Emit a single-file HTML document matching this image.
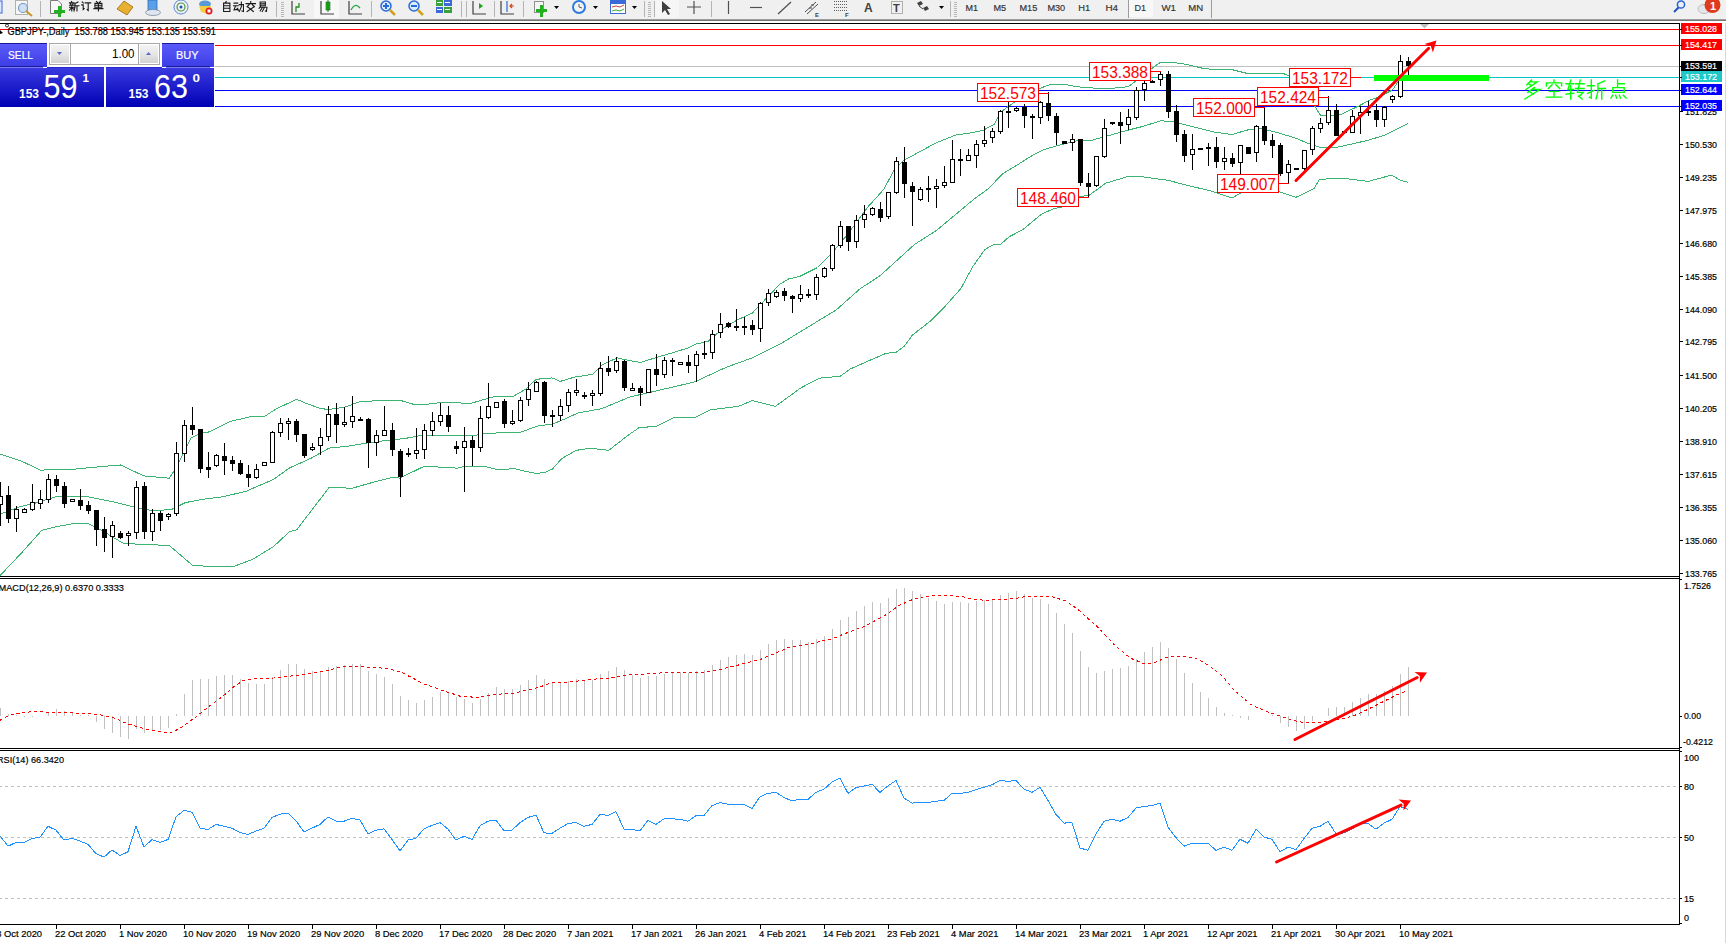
<!DOCTYPE html>
<html><head><meta charset="utf-8"><title>GBPJPY Daily</title>
<style>
html,body{margin:0;padding:0;background:#fff;overflow:hidden;width:1726px;height:943px}
svg{position:absolute;left:0;top:0;display:block}
text{font-family:'Liberation Sans',sans-serif}
</style></head><body>
<svg width="1726" height="943" viewBox="0 0 1726 943">
<rect x="0" y="0" width="1726" height="943" fill="#ffffff"/>

<g shape-rendering="crispEdges">
<rect x="0" y="29" width="1679" height="1" fill="#ff0000"/>
<rect x="0" y="45" width="1679" height="1" fill="#ff0000"/>
<rect x="0" y="66" width="1679" height="1" fill="#c0c0c0"/>
<rect x="0" y="77" width="1679" height="1" fill="#00c8c8"/>
<rect x="0" y="90" width="1679" height="1" fill="#0000ff"/>
<rect x="0" y="106" width="1679" height="1" fill="#0000ff"/>
</g>
<g fill="none" stroke="#3cb371" stroke-width="1" shape-rendering="crispEdges">
<polyline points="0.0,453.9 20.9,460.9 40.6,470.1 76.5,469.0 99.7,466.7 120.5,465.0 143.7,475.9 169.2,478.2 176.1,467.8 190.8,438.2 200.0,433.4 208.4,432.1 230.5,421.4 251.1,416.5 265.0,416.1 276.0,409.0 296.6,399.3 306.3,403.4 320.0,408.3 328.3,409.6 344.9,407.2 358.7,402.0 380.7,400.4 400.4,400.4 412.8,404.1 428.0,404.1 443.1,402.3 470.7,403.4 495.5,396.2 513.4,396.2 525.9,389.0 536.2,379.3 552.0,377.9 560.3,381.4 574.1,377.2 592.4,374.4 602.0,364.8 617.2,357.9 629.6,360.6 640.7,362.4 657.2,357.2 673.7,352.4 687.5,348.2 695.8,344.1 708.2,341.3 723.4,328.2 737.2,320.0 752.3,313.1 764.7,300.0 780.0,284.1 788.5,279.0 799.6,276.5 817.5,267.5 829.9,255.1 840.9,242.7 854.7,224.8 868.5,206.2 876.8,197.2 884.0,188.9 893.6,171.0 903.3,160.6 918.5,152.4 936.4,142.7 955.7,135.1 969.5,133.1 983.3,130.3 994.3,124.1 1001.2,111.7 1016.3,100.7 1038.4,89.0 1049.4,84.8 1063.2,84.1 1076.0,86.7 1105.7,89.0 1128.0,86.7 1138.4,79.3 1150.2,69.6 1160.6,62.2 1171.0,62.2 1187.3,64.5 1205.2,68.9 1231.9,69.6 1248.2,73.7 1270.0,73.9 1284.3,73.9 1288.7,75.6 1300.0,90.0 1315.2,106.9 1320.4,115.2 1333.4,115.2 1341.3,114.3 1359.5,105.6 1370.8,99.5 1376.0,98.2 1390.8,90.9 1393.4,88.7 1397.7,82.2 1408.0,68.0"/>
<polyline points="0.0,514.2 18.5,507.2 37.1,502.6 55.6,496.8 88.1,496.8 111.2,501.4 134.4,507.2 153.0,510.7 171.5,509.5 185.4,502.6 203.9,499.1 222.5,496.8 245.7,491.4 273.5,479.4 289.7,467.8 310.5,458.5 329.1,448.1 347.6,446.2 368.3,442.7 396.0,439.3 404.5,438.6 422.5,435.1 476.2,435.1 484.5,433.3 520.3,432.4 536.9,426.2 553.4,423.8 567.2,417.9 578.5,412.8 601.7,408.7 629.5,397.1 659.7,390.1 694.4,382.0 726.9,367.0 752.3,357.9 780.0,344.1 836.1,310.0 860.0,288.8 880.1,275.7 914.4,244.5 936.6,230.4 954.7,215.3 972.8,200.1 989.0,188.1 1002.6,173.7 1016.3,165.5 1032.9,155.1 1043.9,149.6 1057.7,145.5 1076.0,140.9 1089.4,140.9 1105.7,136.5 1126.5,130.5 1141.3,126.8 1160.6,120.9 1171.0,121.2 1187.3,125.3 1214.0,132.0 1231.9,134.5 1248.2,129.8 1260.0,128.3 1278.0,132.8 1296.0,138.2 1308.7,143.6 1319.5,147.2 1337.5,147.2 1368.2,140.3 1386.2,134.6 1407.8,123.7"/>
<polyline points="0.0,575.6 20.9,553.6 41.7,530.4 55.6,526.9 74.2,523.4 88.1,523.4 99.7,529.2 122.8,543.1 139.0,544.3 169.2,545.4 192.3,565.1 215.5,567.0 234.1,566.3 252.6,559.3 273.5,546.6 289.7,531.5 296.6,529.9 329.1,487.5 352.3,488.2 370.8,482.9 394.0,477.1 399.6,478.2 423.9,466.4 428.6,466.7 452.9,467.5 456.4,468.4 464.5,466.4 484.2,466.4 495.8,469.3 507.4,469.3 513.1,468.2 524.7,471.1 536.3,473.6 545.6,472.2 552.5,469.0 561.8,458.5 576.2,450.4 590.1,448.1 608.7,450.4 629.5,434.2 638.8,427.9 657.3,426.0 673.6,417.9 694.4,417.9 710.6,409.8 738.5,406.3 752.3,400.6 775.5,406.3 801.0,387.8 819.6,378.1 840.4,376.2 849.7,369.3 870.5,360.0 886.2,353.3 896.3,352.3 904.3,346.2 912.4,335.1 930.5,321.0 944.6,306.9 960.7,288.8 972.8,266.6 984.9,249.5 993.0,244.9 1001.0,244.1 1009.1,236.8 1023.2,229.4 1041.3,214.3 1053.4,208.8 1061.5,207.2 1077.6,197.1 1089.4,195.1 1105.7,183.2 1128.0,176.5 1139.8,176.5 1168.0,180.3 1187.3,185.4 1209.6,190.6 1231.9,198.1 1240.8,192.9 1260.0,193.0 1278.0,191.3 1296.0,197.3 1314.1,188.6 1319.5,179.3 1342.9,178.2 1368.2,181.4 1391.6,175.1 1400.6,180.5 1407.8,182.3"/>
</g>
<g shape-rendering="crispEdges" fill="#000">
<rect x="0" y="482" width="1" height="44"/>
<rect x="-2" y="496" width="5" height="9"/>
<rect x="-1" y="497" width="3" height="7" fill="#fff"/>
<rect x="8" y="486" width="1" height="37"/>
<rect x="6" y="495" width="5" height="24"/>
<rect x="16" y="506" width="1" height="26"/>
<rect x="14" y="509" width="5" height="10"/>
<rect x="15" y="510" width="3" height="8" fill="#fff"/>
<rect x="24" y="508" width="1" height="5"/>
<rect x="22" y="509" width="5" height="4"/>
<rect x="23" y="510" width="3" height="2" fill="#fff"/>
<rect x="32" y="484" width="1" height="27"/>
<rect x="30" y="502" width="5" height="8"/>
<rect x="31" y="503" width="3" height="6" fill="#fff"/>
<rect x="40" y="490" width="1" height="19"/>
<rect x="38" y="499" width="5" height="5"/>
<rect x="39" y="500" width="3" height="3" fill="#fff"/>
<rect x="48" y="474" width="1" height="29"/>
<rect x="46" y="479" width="5" height="21"/>
<rect x="47" y="480" width="3" height="19" fill="#fff"/>
<rect x="56" y="475" width="1" height="17"/>
<rect x="54" y="479" width="5" height="7"/>
<rect x="64" y="482" width="1" height="26"/>
<rect x="62" y="486" width="5" height="18"/>
<rect x="72" y="499" width="1" height="3"/>
<rect x="70" y="499" width="5" height="3"/>
<rect x="71" y="500" width="3" height="1" fill="#fff"/>
<rect x="80" y="489" width="1" height="21"/>
<rect x="78" y="500" width="5" height="6"/>
<rect x="88" y="501" width="1" height="13"/>
<rect x="86" y="505" width="5" height="6"/>
<rect x="96" y="510" width="1" height="36"/>
<rect x="94" y="510" width="5" height="20"/>
<rect x="104" y="517" width="1" height="35"/>
<rect x="102" y="529" width="5" height="9"/>
<rect x="112" y="521" width="1" height="37"/>
<rect x="110" y="525" width="5" height="12"/>
<rect x="111" y="526" width="3" height="10" fill="#fff"/>
<rect x="120" y="531" width="1" height="8"/>
<rect x="118" y="533" width="5" height="5"/>
<rect x="128" y="531" width="1" height="15"/>
<rect x="126" y="533" width="5" height="3"/>
<rect x="127" y="534" width="3" height="1" fill="#fff"/>
<rect x="136" y="481" width="1" height="58"/>
<rect x="134" y="487" width="5" height="46"/>
<rect x="135" y="488" width="3" height="44" fill="#fff"/>
<rect x="144" y="482" width="1" height="57"/>
<rect x="142" y="486" width="5" height="46"/>
<rect x="152" y="509" width="1" height="32"/>
<rect x="150" y="513" width="5" height="19"/>
<rect x="151" y="514" width="3" height="17" fill="#fff"/>
<rect x="160" y="511" width="1" height="20"/>
<rect x="158" y="513" width="5" height="8"/>
<rect x="168" y="513" width="1" height="7"/>
<rect x="166" y="514" width="5" height="3"/>
<rect x="167" y="515" width="3" height="1" fill="#fff"/>
<rect x="176" y="442" width="1" height="74"/>
<rect x="174" y="453" width="5" height="61"/>
<rect x="175" y="454" width="3" height="59" fill="#fff"/>
<rect x="184" y="420" width="1" height="42"/>
<rect x="182" y="425" width="5" height="29"/>
<rect x="183" y="426" width="3" height="27" fill="#fff"/>
<rect x="192" y="407" width="1" height="28"/>
<rect x="190" y="425" width="5" height="5"/>
<rect x="200" y="429" width="1" height="44"/>
<rect x="198" y="429" width="5" height="40"/>
<rect x="208" y="452" width="1" height="26"/>
<rect x="206" y="467" width="5" height="3"/>
<rect x="216" y="454" width="1" height="13"/>
<rect x="214" y="455" width="5" height="11"/>
<rect x="215" y="456" width="3" height="9" fill="#fff"/>
<rect x="224" y="443" width="1" height="32"/>
<rect x="222" y="456" width="5" height="5"/>
<rect x="232" y="456" width="1" height="15"/>
<rect x="230" y="460" width="5" height="4"/>
<rect x="240" y="460" width="1" height="15"/>
<rect x="238" y="463" width="5" height="11"/>
<rect x="248" y="465" width="1" height="22"/>
<rect x="246" y="474" width="5" height="4"/>
<rect x="256" y="464" width="1" height="15"/>
<rect x="254" y="469" width="5" height="9"/>
<rect x="255" y="470" width="3" height="7" fill="#fff"/>
<rect x="264" y="462" width="1" height="4"/>
<rect x="262" y="462" width="5" height="4"/>
<rect x="263" y="463" width="3" height="2" fill="#fff"/>
<rect x="272" y="431" width="1" height="32"/>
<rect x="270" y="432" width="5" height="31"/>
<rect x="271" y="433" width="3" height="29" fill="#fff"/>
<rect x="280" y="418" width="1" height="19"/>
<rect x="278" y="423" width="5" height="10"/>
<rect x="279" y="424" width="3" height="8" fill="#fff"/>
<rect x="288" y="418" width="1" height="22"/>
<rect x="286" y="421" width="5" height="3"/>
<rect x="287" y="422" width="3" height="1" fill="#fff"/>
<rect x="296" y="419" width="1" height="23"/>
<rect x="294" y="421" width="5" height="14"/>
<rect x="304" y="434" width="1" height="24"/>
<rect x="302" y="434" width="5" height="22"/>
<rect x="312" y="443" width="1" height="8"/>
<rect x="310" y="447" width="5" height="3"/>
<rect x="311" y="448" width="3" height="1" fill="#fff"/>
<rect x="320" y="428" width="1" height="27"/>
<rect x="318" y="437" width="5" height="9"/>
<rect x="319" y="438" width="3" height="7" fill="#fff"/>
<rect x="328" y="406" width="1" height="35"/>
<rect x="326" y="414" width="5" height="23"/>
<rect x="327" y="415" width="3" height="21" fill="#fff"/>
<rect x="336" y="403" width="1" height="40"/>
<rect x="334" y="414" width="5" height="11"/>
<rect x="344" y="407" width="1" height="20"/>
<rect x="342" y="422" width="5" height="3"/>
<rect x="343" y="423" width="3" height="1" fill="#fff"/>
<rect x="352" y="396" width="1" height="32"/>
<rect x="350" y="416" width="5" height="6"/>
<rect x="351" y="417" width="3" height="4" fill="#fff"/>
<rect x="360" y="417" width="1" height="4"/>
<rect x="358" y="419" width="5" height="2"/>
<rect x="368" y="418" width="1" height="50"/>
<rect x="366" y="419" width="5" height="24"/>
<rect x="376" y="430" width="1" height="26"/>
<rect x="374" y="435" width="5" height="8"/>
<rect x="375" y="436" width="3" height="6" fill="#fff"/>
<rect x="384" y="406" width="1" height="30"/>
<rect x="382" y="430" width="5" height="6"/>
<rect x="383" y="431" width="3" height="4" fill="#fff"/>
<rect x="392" y="423" width="1" height="33"/>
<rect x="390" y="430" width="5" height="20"/>
<rect x="400" y="449" width="1" height="48"/>
<rect x="398" y="451" width="5" height="26"/>
<rect x="408" y="448" width="1" height="9"/>
<rect x="406" y="453" width="5" height="2"/>
<rect x="416" y="428" width="1" height="31"/>
<rect x="414" y="450" width="5" height="4"/>
<rect x="415" y="451" width="3" height="2" fill="#fff"/>
<rect x="424" y="424" width="1" height="35"/>
<rect x="422" y="430" width="5" height="20"/>
<rect x="423" y="431" width="3" height="18" fill="#fff"/>
<rect x="432" y="412" width="1" height="24"/>
<rect x="430" y="421" width="5" height="10"/>
<rect x="431" y="422" width="3" height="8" fill="#fff"/>
<rect x="440" y="403" width="1" height="23"/>
<rect x="438" y="415" width="5" height="7"/>
<rect x="439" y="416" width="3" height="5" fill="#fff"/>
<rect x="448" y="406" width="1" height="26"/>
<rect x="446" y="415" width="5" height="12"/>
<rect x="456" y="441" width="1" height="13"/>
<rect x="454" y="446" width="5" height="3"/>
<rect x="464" y="427" width="1" height="65"/>
<rect x="462" y="441" width="5" height="7"/>
<rect x="463" y="442" width="3" height="5" fill="#fff"/>
<rect x="472" y="436" width="1" height="30"/>
<rect x="470" y="440" width="5" height="8"/>
<rect x="480" y="406" width="1" height="46"/>
<rect x="478" y="418" width="5" height="30"/>
<rect x="479" y="419" width="3" height="28" fill="#fff"/>
<rect x="488" y="383" width="1" height="36"/>
<rect x="486" y="406" width="5" height="12"/>
<rect x="487" y="407" width="3" height="10" fill="#fff"/>
<rect x="496" y="402" width="1" height="6"/>
<rect x="494" y="402" width="5" height="6"/>
<rect x="495" y="403" width="3" height="4" fill="#fff"/>
<rect x="504" y="399" width="1" height="29"/>
<rect x="502" y="401" width="5" height="23"/>
<rect x="512" y="410" width="1" height="15"/>
<rect x="510" y="421" width="5" height="3"/>
<rect x="511" y="422" width="3" height="1" fill="#fff"/>
<rect x="520" y="397" width="1" height="25"/>
<rect x="518" y="400" width="5" height="21"/>
<rect x="519" y="401" width="3" height="19" fill="#fff"/>
<rect x="528" y="382" width="1" height="24"/>
<rect x="526" y="389" width="5" height="11"/>
<rect x="527" y="390" width="3" height="9" fill="#fff"/>
<rect x="536" y="381" width="1" height="11"/>
<rect x="534" y="382" width="5" height="10"/>
<rect x="535" y="383" width="3" height="8" fill="#fff"/>
<rect x="544" y="381" width="1" height="42"/>
<rect x="542" y="382" width="5" height="34"/>
<rect x="552" y="410" width="1" height="17"/>
<rect x="550" y="415" width="5" height="2"/>
<rect x="560" y="399" width="1" height="22"/>
<rect x="558" y="406" width="5" height="10"/>
<rect x="559" y="407" width="3" height="8" fill="#fff"/>
<rect x="568" y="389" width="1" height="23"/>
<rect x="566" y="392" width="5" height="14"/>
<rect x="567" y="393" width="3" height="12" fill="#fff"/>
<rect x="576" y="379" width="1" height="17"/>
<rect x="574" y="390" width="5" height="3"/>
<rect x="575" y="391" width="3" height="1" fill="#fff"/>
<rect x="584" y="392" width="1" height="7"/>
<rect x="582" y="395" width="5" height="2"/>
<rect x="592" y="390" width="1" height="16"/>
<rect x="590" y="393" width="5" height="3"/>
<rect x="591" y="394" width="3" height="1" fill="#fff"/>
<rect x="600" y="362" width="1" height="34"/>
<rect x="598" y="368" width="5" height="26"/>
<rect x="599" y="369" width="3" height="24" fill="#fff"/>
<rect x="608" y="356" width="1" height="20"/>
<rect x="606" y="368" width="5" height="4"/>
<rect x="616" y="357" width="1" height="16"/>
<rect x="614" y="361" width="5" height="10"/>
<rect x="615" y="362" width="3" height="8" fill="#fff"/>
<rect x="624" y="360" width="1" height="31"/>
<rect x="622" y="361" width="5" height="27"/>
<rect x="632" y="383" width="1" height="8"/>
<rect x="630" y="388" width="5" height="3"/>
<rect x="631" y="389" width="3" height="1" fill="#fff"/>
<rect x="640" y="386" width="1" height="20"/>
<rect x="638" y="388" width="5" height="5"/>
<rect x="648" y="369" width="1" height="24"/>
<rect x="646" y="369" width="5" height="24"/>
<rect x="647" y="370" width="3" height="22" fill="#fff"/>
<rect x="656" y="354" width="1" height="32"/>
<rect x="654" y="369" width="5" height="6"/>
<rect x="664" y="357" width="1" height="21"/>
<rect x="662" y="360" width="5" height="15"/>
<rect x="663" y="361" width="3" height="13" fill="#fff"/>
<rect x="672" y="358" width="1" height="18"/>
<rect x="670" y="360" width="5" height="2"/>
<rect x="680" y="362" width="1" height="2"/>
<rect x="678" y="362" width="5" height="3"/>
<rect x="679" y="363" width="3" height="1" fill="#fff"/>
<rect x="688" y="355" width="1" height="18"/>
<rect x="686" y="362" width="5" height="4"/>
<rect x="696" y="351" width="1" height="31"/>
<rect x="694" y="354" width="5" height="12"/>
<rect x="695" y="355" width="3" height="10" fill="#fff"/>
<rect x="704" y="341" width="1" height="18"/>
<rect x="702" y="353" width="5" height="2"/>
<rect x="712" y="330" width="1" height="29"/>
<rect x="710" y="334" width="5" height="19"/>
<rect x="711" y="335" width="3" height="17" fill="#fff"/>
<rect x="720" y="313" width="1" height="25"/>
<rect x="718" y="324" width="5" height="9"/>
<rect x="719" y="325" width="3" height="7" fill="#fff"/>
<rect x="728" y="322" width="1" height="6"/>
<rect x="726" y="323" width="5" height="4"/>
<rect x="736" y="309" width="1" height="22"/>
<rect x="734" y="326" width="5" height="2"/>
<rect x="744" y="317" width="1" height="18"/>
<rect x="742" y="326" width="5" height="2"/>
<rect x="752" y="320" width="1" height="15"/>
<rect x="750" y="325" width="5" height="5"/>
<rect x="760" y="302" width="1" height="40"/>
<rect x="758" y="303" width="5" height="26"/>
<rect x="759" y="304" width="3" height="24" fill="#fff"/>
<rect x="768" y="289" width="1" height="17"/>
<rect x="766" y="293" width="5" height="10"/>
<rect x="767" y="294" width="3" height="8" fill="#fff"/>
<rect x="776" y="290" width="1" height="8"/>
<rect x="774" y="292" width="5" height="5"/>
<rect x="775" y="293" width="3" height="3" fill="#fff"/>
<rect x="784" y="288" width="1" height="13"/>
<rect x="782" y="291" width="5" height="5"/>
<rect x="792" y="295" width="1" height="18"/>
<rect x="790" y="296" width="5" height="3"/>
<rect x="800" y="285" width="1" height="17"/>
<rect x="798" y="294" width="5" height="5"/>
<rect x="799" y="295" width="3" height="3" fill="#fff"/>
<rect x="808" y="289" width="1" height="9"/>
<rect x="806" y="294" width="5" height="2"/>
<rect x="816" y="274" width="1" height="26"/>
<rect x="814" y="277" width="5" height="18"/>
<rect x="815" y="278" width="3" height="16" fill="#fff"/>
<rect x="824" y="267" width="1" height="11"/>
<rect x="822" y="268" width="5" height="9"/>
<rect x="823" y="269" width="3" height="7" fill="#fff"/>
<rect x="832" y="244" width="1" height="27"/>
<rect x="830" y="245" width="5" height="24"/>
<rect x="831" y="246" width="3" height="22" fill="#fff"/>
<rect x="840" y="221" width="1" height="27"/>
<rect x="838" y="226" width="5" height="20"/>
<rect x="839" y="227" width="3" height="18" fill="#fff"/>
<rect x="848" y="226" width="1" height="25"/>
<rect x="846" y="226" width="5" height="16"/>
<rect x="856" y="215" width="1" height="33"/>
<rect x="854" y="220" width="5" height="22"/>
<rect x="855" y="221" width="3" height="20" fill="#fff"/>
<rect x="864" y="205" width="1" height="23"/>
<rect x="862" y="214" width="5" height="6"/>
<rect x="863" y="215" width="3" height="4" fill="#fff"/>
<rect x="872" y="207" width="1" height="9"/>
<rect x="870" y="208" width="5" height="7"/>
<rect x="871" y="209" width="3" height="5" fill="#fff"/>
<rect x="880" y="202" width="1" height="20"/>
<rect x="878" y="209" width="5" height="9"/>
<rect x="888" y="192" width="1" height="27"/>
<rect x="886" y="192" width="5" height="25"/>
<rect x="887" y="193" width="3" height="23" fill="#fff"/>
<rect x="896" y="157" width="1" height="37"/>
<rect x="894" y="161" width="5" height="32"/>
<rect x="895" y="162" width="3" height="30" fill="#fff"/>
<rect x="904" y="147" width="1" height="51"/>
<rect x="902" y="162" width="5" height="22"/>
<rect x="912" y="182" width="1" height="44"/>
<rect x="910" y="186" width="5" height="6"/>
<rect x="920" y="187" width="1" height="14"/>
<rect x="918" y="189" width="5" height="11"/>
<rect x="919" y="190" width="3" height="9" fill="#fff"/>
<rect x="928" y="176" width="1" height="26"/>
<rect x="926" y="188" width="5" height="2"/>
<rect x="936" y="179" width="1" height="29"/>
<rect x="934" y="186" width="5" height="3"/>
<rect x="935" y="187" width="3" height="1" fill="#fff"/>
<rect x="944" y="166" width="1" height="22"/>
<rect x="942" y="182" width="5" height="4"/>
<rect x="943" y="183" width="3" height="2" fill="#fff"/>
<rect x="952" y="140" width="1" height="43"/>
<rect x="950" y="159" width="5" height="24"/>
<rect x="951" y="160" width="3" height="22" fill="#fff"/>
<rect x="960" y="149" width="1" height="27"/>
<rect x="958" y="159" width="5" height="2"/>
<rect x="968" y="149" width="1" height="12"/>
<rect x="966" y="155" width="5" height="6"/>
<rect x="967" y="156" width="3" height="4" fill="#fff"/>
<rect x="976" y="140" width="1" height="28"/>
<rect x="974" y="144" width="5" height="12"/>
<rect x="975" y="145" width="3" height="10" fill="#fff"/>
<rect x="984" y="126" width="1" height="21"/>
<rect x="982" y="140" width="5" height="4"/>
<rect x="983" y="141" width="3" height="2" fill="#fff"/>
<rect x="992" y="128" width="1" height="15"/>
<rect x="990" y="131" width="5" height="7"/>
<rect x="991" y="132" width="3" height="5" fill="#fff"/>
<rect x="1000" y="110" width="1" height="24"/>
<rect x="998" y="111" width="5" height="21"/>
<rect x="999" y="112" width="3" height="19" fill="#fff"/>
<rect x="1008" y="101" width="1" height="27"/>
<rect x="1006" y="111" width="5" height="2"/>
<rect x="1016" y="107" width="1" height="5"/>
<rect x="1014" y="108" width="5" height="3"/>
<rect x="1015" y="109" width="3" height="1" fill="#fff"/>
<rect x="1024" y="104" width="1" height="24"/>
<rect x="1022" y="107" width="5" height="9"/>
<rect x="1032" y="114" width="1" height="25"/>
<rect x="1030" y="116" width="5" height="2"/>
<rect x="1040" y="101" width="1" height="23"/>
<rect x="1038" y="102" width="5" height="16"/>
<rect x="1039" y="103" width="3" height="14" fill="#fff"/>
<rect x="1048" y="92" width="1" height="29"/>
<rect x="1046" y="103" width="5" height="13"/>
<rect x="1056" y="113" width="1" height="32"/>
<rect x="1054" y="116" width="5" height="17"/>
<rect x="1064" y="141" width="1" height="3"/>
<rect x="1062" y="141" width="5" height="3"/>
<rect x="1072" y="134" width="1" height="17"/>
<rect x="1070" y="139" width="5" height="4"/>
<rect x="1071" y="140" width="3" height="2" fill="#fff"/>
<rect x="1080" y="139" width="1" height="47"/>
<rect x="1078" y="139" width="5" height="44"/>
<rect x="1088" y="173" width="1" height="24"/>
<rect x="1086" y="183" width="5" height="4"/>
<rect x="1096" y="156" width="1" height="31"/>
<rect x="1094" y="156" width="5" height="30"/>
<rect x="1095" y="157" width="3" height="28" fill="#fff"/>
<rect x="1104" y="119" width="1" height="39"/>
<rect x="1102" y="128" width="5" height="29"/>
<rect x="1103" y="129" width="3" height="27" fill="#fff"/>
<rect x="1112" y="122" width="1" height="3"/>
<rect x="1110" y="122" width="5" height="2"/>
<rect x="1120" y="112" width="1" height="32"/>
<rect x="1118" y="122" width="5" height="4"/>
<rect x="1128" y="109" width="1" height="21"/>
<rect x="1126" y="117" width="5" height="8"/>
<rect x="1127" y="118" width="3" height="6" fill="#fff"/>
<rect x="1136" y="87" width="1" height="33"/>
<rect x="1134" y="90" width="5" height="28"/>
<rect x="1135" y="91" width="3" height="26" fill="#fff"/>
<rect x="1144" y="79" width="1" height="22"/>
<rect x="1142" y="83" width="5" height="7"/>
<rect x="1143" y="84" width="3" height="5" fill="#fff"/>
<rect x="1152" y="80" width="1" height="3"/>
<rect x="1150" y="81" width="5" height="2"/>
<rect x="1160" y="71" width="1" height="15"/>
<rect x="1158" y="74" width="5" height="6"/>
<rect x="1159" y="75" width="3" height="4" fill="#fff"/>
<rect x="1168" y="71" width="1" height="47"/>
<rect x="1166" y="74" width="5" height="38"/>
<rect x="1176" y="105" width="1" height="37"/>
<rect x="1174" y="111" width="5" height="24"/>
<rect x="1184" y="130" width="1" height="32"/>
<rect x="1182" y="134" width="5" height="22"/>
<rect x="1192" y="134" width="1" height="36"/>
<rect x="1190" y="149" width="5" height="6"/>
<rect x="1191" y="150" width="3" height="4" fill="#fff"/>
<rect x="1200" y="148" width="1" height="1"/>
<rect x="1198" y="148" width="5" height="2"/>
<rect x="1208" y="143" width="1" height="23"/>
<rect x="1206" y="147" width="5" height="2"/>
<rect x="1216" y="137" width="1" height="31"/>
<rect x="1214" y="147" width="5" height="15"/>
<rect x="1224" y="147" width="1" height="23"/>
<rect x="1222" y="158" width="5" height="4"/>
<rect x="1223" y="159" width="3" height="2" fill="#fff"/>
<rect x="1232" y="153" width="1" height="14"/>
<rect x="1230" y="158" width="5" height="6"/>
<rect x="1240" y="145" width="1" height="29"/>
<rect x="1238" y="145" width="5" height="18"/>
<rect x="1239" y="146" width="3" height="16" fill="#fff"/>
<rect x="1248" y="147" width="1" height="7"/>
<rect x="1246" y="147" width="5" height="7"/>
<rect x="1256" y="125" width="1" height="37"/>
<rect x="1254" y="126" width="5" height="27"/>
<rect x="1255" y="127" width="3" height="25" fill="#fff"/>
<rect x="1264" y="107" width="1" height="38"/>
<rect x="1262" y="126" width="5" height="15"/>
<rect x="1272" y="134" width="1" height="24"/>
<rect x="1270" y="140" width="5" height="6"/>
<rect x="1280" y="143" width="1" height="33"/>
<rect x="1278" y="145" width="5" height="29"/>
<rect x="1288" y="160" width="1" height="23"/>
<rect x="1286" y="164" width="5" height="9"/>
<rect x="1287" y="165" width="3" height="7" fill="#fff"/>
<rect x="1296" y="168" width="1" height="1"/>
<rect x="1294" y="168" width="5" height="2"/>
<rect x="1304" y="150" width="1" height="20"/>
<rect x="1302" y="150" width="5" height="19"/>
<rect x="1303" y="151" width="3" height="17" fill="#fff"/>
<rect x="1312" y="126" width="1" height="29"/>
<rect x="1310" y="128" width="5" height="22"/>
<rect x="1311" y="129" width="3" height="20" fill="#fff"/>
<rect x="1320" y="118" width="1" height="15"/>
<rect x="1318" y="123" width="5" height="6"/>
<rect x="1319" y="124" width="3" height="4" fill="#fff"/>
<rect x="1328" y="96" width="1" height="29"/>
<rect x="1326" y="110" width="5" height="13"/>
<rect x="1327" y="111" width="3" height="11" fill="#fff"/>
<rect x="1336" y="104" width="1" height="32"/>
<rect x="1334" y="110" width="5" height="26"/>
<rect x="1344" y="131" width="1" height="2"/>
<rect x="1342" y="131" width="5" height="2"/>
<rect x="1352" y="110" width="1" height="23"/>
<rect x="1350" y="116" width="5" height="17"/>
<rect x="1351" y="117" width="3" height="15" fill="#fff"/>
<rect x="1360" y="106" width="1" height="28"/>
<rect x="1358" y="112" width="5" height="4"/>
<rect x="1359" y="113" width="3" height="2" fill="#fff"/>
<rect x="1368" y="101" width="1" height="15"/>
<rect x="1366" y="111" width="5" height="2"/>
<rect x="1376" y="104" width="1" height="23"/>
<rect x="1374" y="110" width="5" height="10"/>
<rect x="1384" y="106" width="1" height="21"/>
<rect x="1382" y="107" width="5" height="13"/>
<rect x="1383" y="108" width="3" height="11" fill="#fff"/>
<rect x="1392" y="95" width="1" height="8"/>
<rect x="1390" y="96" width="5" height="4"/>
<rect x="1391" y="97" width="3" height="2" fill="#fff"/>
<rect x="1400" y="55" width="1" height="43"/>
<rect x="1398" y="61" width="5" height="36"/>
<rect x="1399" y="62" width="3" height="34" fill="#fff"/>
<rect x="1408" y="57" width="1" height="21"/>
<rect x="1406" y="61" width="5" height="5"/>
</g>
<g shape-rendering="crispEdges" fill="#000">
<rect x="0" y="23" width="1680" height="1"/>
<rect x="0" y="576" width="1680" height="1"/>
<rect x="0" y="578" width="1680" height="1"/>
<rect x="0" y="748" width="1680" height="1"/>
<rect x="0" y="750" width="1680" height="1"/>
<rect x="0" y="924" width="1680" height="1"/>
<rect x="1679" y="23" width="1" height="902"/>
</g>
<g shape-rendering="crispEdges" fill="#c0c0c0">
<rect x="0" y="708" width="1" height="8"/>
<rect x="8" y="714" width="1" height="2"/>
<rect x="16" y="715" width="1" height="1"/>
<rect x="24" y="716" width="1" height="1"/>
<rect x="32" y="716" width="1" height="1"/>
<rect x="48" y="712" width="1" height="4"/>
<rect x="56" y="709" width="1" height="7"/>
<rect x="64" y="711" width="1" height="5"/>
<rect x="72" y="713" width="1" height="3"/>
<rect x="80" y="715" width="1" height="1"/>
<rect x="88" y="715" width="1" height="1"/>
<rect x="96" y="716" width="1" height="6"/>
<rect x="104" y="716" width="1" height="13"/>
<rect x="112" y="716" width="1" height="17"/>
<rect x="120" y="716" width="1" height="21"/>
<rect x="128" y="716" width="1" height="23"/>
<rect x="136" y="716" width="1" height="13"/>
<rect x="144" y="716" width="1" height="17"/>
<rect x="152" y="716" width="1" height="14"/>
<rect x="160" y="716" width="1" height="14"/>
<rect x="168" y="716" width="1" height="12"/>
<rect x="176" y="714" width="1" height="2"/>
<rect x="184" y="694" width="1" height="22"/>
<rect x="192" y="680" width="1" height="36"/>
<rect x="200" y="679" width="1" height="37"/>
<rect x="208" y="679" width="1" height="37"/>
<rect x="216" y="676" width="1" height="40"/>
<rect x="224" y="675" width="1" height="41"/>
<rect x="232" y="675" width="1" height="41"/>
<rect x="240" y="679" width="1" height="37"/>
<rect x="248" y="683" width="1" height="33"/>
<rect x="256" y="684" width="1" height="32"/>
<rect x="264" y="684" width="1" height="32"/>
<rect x="272" y="677" width="1" height="39"/>
<rect x="280" y="670" width="1" height="46"/>
<rect x="288" y="664" width="1" height="52"/>
<rect x="296" y="664" width="1" height="52"/>
<rect x="304" y="669" width="1" height="47"/>
<rect x="312" y="671" width="1" height="45"/>
<rect x="320" y="671" width="1" height="45"/>
<rect x="328" y="667" width="1" height="49"/>
<rect x="336" y="666" width="1" height="50"/>
<rect x="344" y="665" width="1" height="51"/>
<rect x="352" y="664" width="1" height="52"/>
<rect x="360" y="664" width="1" height="52"/>
<rect x="368" y="671" width="1" height="45"/>
<rect x="376" y="674" width="1" height="42"/>
<rect x="384" y="677" width="1" height="39"/>
<rect x="392" y="684" width="1" height="32"/>
<rect x="400" y="696" width="1" height="20"/>
<rect x="408" y="700" width="1" height="16"/>
<rect x="416" y="703" width="1" height="13"/>
<rect x="424" y="700" width="1" height="16"/>
<rect x="432" y="697" width="1" height="19"/>
<rect x="440" y="692" width="1" height="24"/>
<rect x="448" y="692" width="1" height="24"/>
<rect x="456" y="697" width="1" height="19"/>
<rect x="464" y="699" width="1" height="17"/>
<rect x="472" y="703" width="1" height="13"/>
<rect x="480" y="699" width="1" height="17"/>
<rect x="488" y="693" width="1" height="23"/>
<rect x="496" y="687" width="1" height="29"/>
<rect x="504" y="689" width="1" height="27"/>
<rect x="512" y="689" width="1" height="27"/>
<rect x="520" y="685" width="1" height="31"/>
<rect x="528" y="680" width="1" height="36"/>
<rect x="536" y="675" width="1" height="41"/>
<rect x="544" y="679" width="1" height="37"/>
<rect x="552" y="683" width="1" height="33"/>
<rect x="560" y="683" width="1" height="33"/>
<rect x="568" y="681" width="1" height="35"/>
<rect x="576" y="679" width="1" height="37"/>
<rect x="584" y="680" width="1" height="36"/>
<rect x="592" y="680" width="1" height="36"/>
<rect x="600" y="674" width="1" height="42"/>
<rect x="608" y="671" width="1" height="45"/>
<rect x="616" y="667" width="1" height="49"/>
<rect x="624" y="670" width="1" height="46"/>
<rect x="632" y="675" width="1" height="41"/>
<rect x="640" y="678" width="1" height="38"/>
<rect x="648" y="676" width="1" height="40"/>
<rect x="656" y="676" width="1" height="40"/>
<rect x="664" y="674" width="1" height="42"/>
<rect x="672" y="673" width="1" height="43"/>
<rect x="680" y="672" width="1" height="44"/>
<rect x="688" y="673" width="1" height="43"/>
<rect x="696" y="671" width="1" height="45"/>
<rect x="704" y="670" width="1" height="46"/>
<rect x="712" y="665" width="1" height="51"/>
<rect x="720" y="660" width="1" height="56"/>
<rect x="728" y="657" width="1" height="59"/>
<rect x="736" y="655" width="1" height="61"/>
<rect x="744" y="654" width="1" height="62"/>
<rect x="752" y="655" width="1" height="61"/>
<rect x="760" y="650" width="1" height="66"/>
<rect x="768" y="644" width="1" height="72"/>
<rect x="776" y="640" width="1" height="76"/>
<rect x="784" y="639" width="1" height="77"/>
<rect x="792" y="640" width="1" height="76"/>
<rect x="800" y="640" width="1" height="76"/>
<rect x="808" y="642" width="1" height="74"/>
<rect x="816" y="639" width="1" height="77"/>
<rect x="824" y="636" width="1" height="80"/>
<rect x="832" y="629" width="1" height="87"/>
<rect x="840" y="620" width="1" height="96"/>
<rect x="848" y="617" width="1" height="99"/>
<rect x="856" y="611" width="1" height="105"/>
<rect x="864" y="606" width="1" height="110"/>
<rect x="872" y="602" width="1" height="114"/>
<rect x="880" y="603" width="1" height="113"/>
<rect x="888" y="598" width="1" height="118"/>
<rect x="896" y="589" width="1" height="127"/>
<rect x="904" y="588" width="1" height="128"/>
<rect x="912" y="591" width="1" height="125"/>
<rect x="920" y="594" width="1" height="122"/>
<rect x="928" y="598" width="1" height="118"/>
<rect x="936" y="601" width="1" height="115"/>
<rect x="944" y="604" width="1" height="112"/>
<rect x="952" y="602" width="1" height="114"/>
<rect x="960" y="602" width="1" height="114"/>
<rect x="968" y="603" width="1" height="113"/>
<rect x="976" y="601" width="1" height="115"/>
<rect x="984" y="600" width="1" height="116"/>
<rect x="992" y="599" width="1" height="117"/>
<rect x="1000" y="595" width="1" height="121"/>
<rect x="1008" y="593" width="1" height="123"/>
<rect x="1016" y="591" width="1" height="125"/>
<rect x="1024" y="594" width="1" height="122"/>
<rect x="1032" y="598" width="1" height="118"/>
<rect x="1040" y="599" width="1" height="117"/>
<rect x="1048" y="604" width="1" height="112"/>
<rect x="1056" y="613" width="1" height="103"/>
<rect x="1064" y="624" width="1" height="92"/>
<rect x="1072" y="633" width="1" height="83"/>
<rect x="1080" y="651" width="1" height="65"/>
<rect x="1088" y="667" width="1" height="49"/>
<rect x="1096" y="673" width="1" height="43"/>
<rect x="1104" y="671" width="1" height="45"/>
<rect x="1112" y="669" width="1" height="47"/>
<rect x="1120" y="668" width="1" height="48"/>
<rect x="1128" y="666" width="1" height="50"/>
<rect x="1136" y="659" width="1" height="57"/>
<rect x="1144" y="652" width="1" height="64"/>
<rect x="1152" y="647" width="1" height="69"/>
<rect x="1160" y="642" width="1" height="74"/>
<rect x="1168" y="648" width="1" height="68"/>
<rect x="1176" y="659" width="1" height="57"/>
<rect x="1184" y="673" width="1" height="43"/>
<rect x="1192" y="683" width="1" height="33"/>
<rect x="1200" y="692" width="1" height="24"/>
<rect x="1208" y="698" width="1" height="18"/>
<rect x="1216" y="707" width="1" height="9"/>
<rect x="1224" y="713" width="1" height="3"/>
<rect x="1232" y="715" width="1" height="1"/>
<rect x="1240" y="716" width="1" height="2"/>
<rect x="1248" y="716" width="1" height="4"/>
<rect x="1272" y="715" width="1" height="1"/>
<rect x="1280" y="716" width="1" height="7"/>
<rect x="1288" y="716" width="1" height="11"/>
<rect x="1296" y="716" width="1" height="15"/>
<rect x="1304" y="716" width="1" height="13"/>
<rect x="1312" y="716" width="1" height="5"/>
<rect x="1328" y="708" width="1" height="8"/>
<rect x="1336" y="707" width="1" height="9"/>
<rect x="1344" y="707" width="1" height="9"/>
<rect x="1352" y="702" width="1" height="14"/>
<rect x="1360" y="698" width="1" height="18"/>
<rect x="1368" y="694" width="1" height="22"/>
<rect x="1376" y="694" width="1" height="22"/>
<rect x="1384" y="691" width="1" height="25"/>
<rect x="1392" y="686" width="1" height="30"/>
<rect x="1400" y="674" width="1" height="42"/>
<rect x="1408" y="667" width="1" height="49"/>
</g>
<polyline points="0.0,720.3 9.1,715.2 21.9,712.6 34.7,711.5 54.7,712.4 91.2,713.5 102.1,715.2 113.1,717.5 127.7,723.9 145.9,729.0 164.1,732.7 171.4,733.0 182.4,726.6 197.0,716.2 209.7,705.7 222.5,696.5 235.3,685.6 242.6,681.0 255.3,678.3 273.6,678.0 284.5,676.5 296.0,675.6 314.2,672.8 328.8,670.1 343.4,666.5 361.7,666.5 369.0,667.4 387.2,668.3 401.8,672.5 423.7,683.8 441.9,690.2 460.1,696.2 478.4,697.5 496.6,694.4 514.9,692.9 538.6,687.4 551.3,682.9 569.6,682.0 592.0,679.2 610.2,678.3 623.0,675.2 655.8,673.4 665.0,672.5 701.4,672.8 710.5,671.4 719.7,669.6 734.3,666.1 747.0,662.8 759.8,659.7 774.4,653.7 789.0,647.3 810.9,643.7 832.7,638.6 847.3,632.7 865.6,626.0 888.0,613.6 899.0,605.4 911.7,599.9 924.5,596.6 939.1,595.3 961.0,596.2 973.7,599.3 986.5,600.4 1015.7,598.4 1024.8,596.6 1052.1,596.6 1066.7,601.3 1079.5,610.8 1097.7,627.2 1116.0,646.4 1130.6,658.2 1143.3,663.4 1152.5,663.4 1167.0,657.3 1184.0,656.1 1195.0,658.2 1203.8,662.5 1210.2,666.4 1222.9,676.6 1233.1,689.3 1251.0,704.6 1263.7,710.4 1276.5,714.8 1293.0,720.5 1302.0,722.2 1321.1,722.5 1340.2,719.3 1353.0,716.1 1365.7,710.4 1384.8,700.8 1397.6,694.4 1408.4,690.6" fill="none" stroke="#ff0000" stroke-width="1" stroke-dasharray="3,3" shape-rendering="crispEdges"/>
<g shape-rendering="crispEdges" fill="none" stroke="#c0c0c0" stroke-width="1" stroke-dasharray="3,3">
<line x1="-1" y1="786.5" x2="1679" y2="786.5"/>
<line x1="-1" y1="837.5" x2="1679" y2="837.5"/>
<line x1="-1" y1="898.5" x2="1679" y2="898.5"/>
</g>
<polyline points="0.0,835.8 8.0,846.2 16.0,842.4 24.0,842.4 32.0,838.6 40.0,837.1 48.0,826.3 56.0,830.1 64.0,840.1 72.0,838.2 80.0,841.1 88.0,844.3 96.0,853.7 104.0,857.1 112.0,849.9 120.0,855.6 128.0,851.8 136.0,826.3 144.0,847.1 152.0,839.5 160.0,842.4 168.0,839.5 176.0,816.9 184.0,810.3 192.0,812.2 200.0,828.2 208.0,829.5 216.0,824.4 224.0,826.3 232.0,828.2 240.0,832.6 248.0,834.4 256.0,831.0 264.0,828.2 272.0,817.5 280.0,814.1 288.0,813.1 296.0,820.7 304.0,832.0 312.0,828.2 320.0,824.4 328.0,816.9 336.0,821.2 344.0,821.2 352.0,818.2 360.0,820.1 368.0,833.9 376.0,830.1 384.0,828.8 392.0,839.5 400.0,850.9 408.0,840.1 416.0,838.2 424.0,828.8 432.0,825.4 440.0,822.6 448.0,829.2 456.0,840.1 464.0,836.3 472.0,839.5 480.0,825.8 488.0,821.2 496.0,820.1 504.0,831.0 512.0,830.1 520.0,822.6 528.0,817.5 536.0,815.0 544.0,832.9 552.0,833.3 560.0,828.2 568.0,823.5 576.0,822.6 584.0,826.3 592.0,824.4 600.0,814.4 608.0,815.4 616.0,811.6 624.0,829.2 632.0,829.5 640.0,831.0 648.0,820.3 656.0,824.4 664.0,818.8 672.0,818.8 680.0,819.3 688.0,821.2 696.0,815.6 704.0,815.4 712.0,805.6 720.0,802.7 728.0,804.2 736.0,804.2 744.0,804.6 752.0,808.4 760.0,796.7 768.0,793.3 776.0,792.4 784.0,797.5 792.0,800.9 800.0,799.3 808.0,799.3 816.0,792.4 824.0,789.1 832.0,782.0 840.0,778.2 848.0,793.3 856.0,787.6 864.0,786.1 872.0,784.2 880.0,792.4 888.0,785.8 896.0,780.5 904.0,798.0 912.0,803.1 920.0,802.4 928.0,802.4 936.0,801.2 944.0,800.5 952.0,793.3 960.0,793.3 968.0,792.4 976.0,789.5 984.0,787.3 992.0,784.8 1000.0,780.5 1008.0,781.4 1016.0,780.5 1024.0,789.1 1032.0,792.4 1040.0,787.3 1048.0,800.5 1056.0,814.4 1064.0,823.1 1072.0,822.6 1080.0,848.0 1088.0,850.3 1096.0,833.9 1104.0,821.2 1112.0,819.3 1120.0,821.2 1128.0,817.5 1136.0,808.0 1144.0,806.5 1152.0,805.6 1160.0,803.1 1168.0,827.3 1176.0,837.7 1184.0,846.2 1192.0,843.3 1200.0,843.3 1208.0,843.3 1216.0,850.3 1224.0,847.1 1232.0,850.3 1240.0,839.2 1248.0,843.3 1256.0,829.2 1264.0,837.1 1272.0,839.2 1280.0,851.8 1288.0,847.1 1296.0,849.5 1304.0,838.6 1312.0,828.2 1320.0,826.3 1328.0,821.2 1336.0,833.9 1344.0,832.9 1352.0,829.2 1360.0,823.5 1368.0,823.5 1376.0,829.2 1384.0,823.1 1392.0,819.3 1400.0,806.5 1408.0,809.3" fill="none" stroke="#1e90ff" stroke-width="1" shape-rendering="crispEdges"/>
<g shape-rendering="crispEdges" fill="#000">
<rect x="1679" y="111" width="4" height="1"/>
<rect x="1679" y="144" width="4" height="1"/>
<rect x="1679" y="177" width="4" height="1"/>
<rect x="1679" y="210" width="4" height="1"/>
<rect x="1679" y="243" width="4" height="1"/>
<rect x="1679" y="276" width="4" height="1"/>
<rect x="1679" y="309" width="4" height="1"/>
<rect x="1679" y="341" width="4" height="1"/>
<rect x="1679" y="375" width="4" height="1"/>
<rect x="1679" y="408" width="4" height="1"/>
<rect x="1679" y="441" width="4" height="1"/>
<rect x="1679" y="474" width="4" height="1"/>
<rect x="1679" y="507" width="4" height="1"/>
<rect x="1679" y="540" width="4" height="1"/>
<rect x="1679" y="573" width="4" height="1"/>
</g>
<text x="1685" y="115" font-size="9" fill="#000" text-anchor="start" font-weight="normal" stroke="#000" stroke-width="0.18" textLength="32" lengthAdjust="spacingAndGlyphs" >151.825</text>
<text x="1685" y="148" font-size="9" fill="#000" text-anchor="start" font-weight="normal" stroke="#000" stroke-width="0.18" textLength="32" lengthAdjust="spacingAndGlyphs" >150.530</text>
<text x="1685" y="181" font-size="9" fill="#000" text-anchor="start" font-weight="normal" stroke="#000" stroke-width="0.18" textLength="32" lengthAdjust="spacingAndGlyphs" >149.235</text>
<text x="1685" y="214" font-size="9" fill="#000" text-anchor="start" font-weight="normal" stroke="#000" stroke-width="0.18" textLength="32" lengthAdjust="spacingAndGlyphs" >147.975</text>
<text x="1685" y="247" font-size="9" fill="#000" text-anchor="start" font-weight="normal" stroke="#000" stroke-width="0.18" textLength="32" lengthAdjust="spacingAndGlyphs" >146.680</text>
<text x="1685" y="280" font-size="9" fill="#000" text-anchor="start" font-weight="normal" stroke="#000" stroke-width="0.18" textLength="32" lengthAdjust="spacingAndGlyphs" >145.385</text>
<text x="1685" y="313" font-size="9" fill="#000" text-anchor="start" font-weight="normal" stroke="#000" stroke-width="0.18" textLength="32" lengthAdjust="spacingAndGlyphs" >144.090</text>
<text x="1685" y="345" font-size="9" fill="#000" text-anchor="start" font-weight="normal" stroke="#000" stroke-width="0.18" textLength="32" lengthAdjust="spacingAndGlyphs" >142.795</text>
<text x="1685" y="379" font-size="9" fill="#000" text-anchor="start" font-weight="normal" stroke="#000" stroke-width="0.18" textLength="32" lengthAdjust="spacingAndGlyphs" >141.500</text>
<text x="1685" y="412" font-size="9" fill="#000" text-anchor="start" font-weight="normal" stroke="#000" stroke-width="0.18" textLength="32" lengthAdjust="spacingAndGlyphs" >140.205</text>
<text x="1685" y="445" font-size="9" fill="#000" text-anchor="start" font-weight="normal" stroke="#000" stroke-width="0.18" textLength="32" lengthAdjust="spacingAndGlyphs" >138.910</text>
<text x="1685" y="478" font-size="9" fill="#000" text-anchor="start" font-weight="normal" stroke="#000" stroke-width="0.18" textLength="32" lengthAdjust="spacingAndGlyphs" >137.615</text>
<text x="1685" y="511" font-size="9" fill="#000" text-anchor="start" font-weight="normal" stroke="#000" stroke-width="0.18" textLength="32" lengthAdjust="spacingAndGlyphs" >136.355</text>
<text x="1685" y="544" font-size="9" fill="#000" text-anchor="start" font-weight="normal" stroke="#000" stroke-width="0.18" textLength="32" lengthAdjust="spacingAndGlyphs" >135.060</text>
<text x="1685" y="577" font-size="9" fill="#000" text-anchor="start" font-weight="normal" stroke="#000" stroke-width="0.18" textLength="32" lengthAdjust="spacingAndGlyphs" >133.765</text>
<rect x="1681" y="23" width="41" height="11" fill="#ff0000" shape-rendering="crispEdges"/>
<text x="1685" y="32" font-size="9" fill="#fff" text-anchor="start" font-weight="normal" stroke="#fff" stroke-width="0.18" textLength="32" lengthAdjust="spacingAndGlyphs" >155.028</text>
<rect x="1681" y="39" width="41" height="11" fill="#ff0000" shape-rendering="crispEdges"/>
<text x="1685" y="48" font-size="9" fill="#fff" text-anchor="start" font-weight="normal" stroke="#fff" stroke-width="0.18" textLength="32" lengthAdjust="spacingAndGlyphs" >154.417</text>
<rect x="1681" y="61" width="41" height="10" fill="#000000" shape-rendering="crispEdges"/>
<text x="1685" y="69" font-size="9" fill="#fff" text-anchor="start" font-weight="normal" stroke="#fff" stroke-width="0.18" textLength="32" lengthAdjust="spacingAndGlyphs" >153.591</text>
<rect x="1681" y="71" width="41" height="11" fill="#1ec8c8" shape-rendering="crispEdges"/>
<text x="1685" y="80" font-size="9" fill="#fff" text-anchor="start" font-weight="normal" stroke="#fff" stroke-width="0.18" textLength="32" lengthAdjust="spacingAndGlyphs" >153.172</text>
<rect x="1681" y="84" width="41" height="11" fill="#0000ff" shape-rendering="crispEdges"/>
<text x="1685" y="93" font-size="9" fill="#fff" text-anchor="start" font-weight="normal" stroke="#fff" stroke-width="0.18" textLength="32" lengthAdjust="spacingAndGlyphs" >152.644</text>
<rect x="1681" y="100" width="41" height="11" fill="#0000ff" shape-rendering="crispEdges"/>
<text x="1685" y="109" font-size="9" fill="#fff" text-anchor="start" font-weight="normal" stroke="#fff" stroke-width="0.18" textLength="32" lengthAdjust="spacingAndGlyphs" >152.035</text>
<g shape-rendering="crispEdges" fill="#000">
<rect x="1679" y="29" width="3" height="1"/>
<rect x="1679" y="45" width="3" height="1"/>
<rect x="1679" y="66" width="3" height="1"/>
<rect x="1679" y="77" width="3" height="1"/>
<rect x="1679" y="90" width="3" height="1"/>
<rect x="1679" y="106" width="3" height="1"/>
</g>
<g shape-rendering="crispEdges" fill="#000">
<rect x="1679" y="579" width="3" height="1"/>
<rect x="1679" y="716" width="3" height="1"/>
<rect x="1679" y="747" width="3" height="1"/>
<rect x="1679" y="751" width="3" height="1"/>
<rect x="1679" y="786" width="3" height="1"/>
<rect x="1679" y="837" width="3" height="1"/>
<rect x="1679" y="898" width="3" height="1"/>
<rect x="1679" y="923" width="3" height="1"/>
</g>
<text x="1684" y="589" font-size="9" fill="#000" text-anchor="start" font-weight="normal" stroke="#000" stroke-width="0.18" textLength="27" lengthAdjust="spacingAndGlyphs" >1.7526</text>
<text x="1684" y="719" font-size="9" fill="#000" text-anchor="start" font-weight="normal" stroke="#000" stroke-width="0.18" textLength="17" lengthAdjust="spacingAndGlyphs" >0.00</text>
<text x="1683" y="745" font-size="9" fill="#000" text-anchor="start" font-weight="normal" stroke="#000" stroke-width="0.18" textLength="30" lengthAdjust="spacingAndGlyphs" >-0.4212</text>
<text x="-1.5" y="591" font-size="9.5" fill="#000" text-anchor="start" font-weight="normal" stroke="#000" stroke-width="0.18" textLength="125.5" lengthAdjust="spacingAndGlyphs" >MACD(12,26,9) 0.6370 0.3333</text>
<text x="1684" y="761" font-size="9" fill="#000" text-anchor="start" font-weight="normal" stroke="#000" stroke-width="0.18" textLength="15" lengthAdjust="spacingAndGlyphs" >100</text>
<text x="1684" y="790" font-size="9" fill="#000" text-anchor="start" font-weight="normal" stroke="#000" stroke-width="0.18" textLength="10" lengthAdjust="spacingAndGlyphs" >80</text>
<text x="1684" y="841" font-size="9" fill="#000" text-anchor="start" font-weight="normal" stroke="#000" stroke-width="0.18" textLength="10" lengthAdjust="spacingAndGlyphs" >50</text>
<text x="1684" y="902" font-size="9" fill="#000" text-anchor="start" font-weight="normal" stroke="#000" stroke-width="0.18" textLength="10" lengthAdjust="spacingAndGlyphs" >15</text>
<text x="1684" y="921" font-size="9" fill="#000" text-anchor="start" font-weight="normal" stroke="#000" stroke-width="0.18" textLength="5" lengthAdjust="spacingAndGlyphs" >0</text>
<text x="-3" y="763" font-size="9.5" fill="#000" text-anchor="start" font-weight="normal" stroke="#000" stroke-width="0.18" textLength="67" lengthAdjust="spacingAndGlyphs" >RSI(14) 66.3420</text>
<g shape-rendering="crispEdges" fill="#000">
<rect x="-8" y="924" width="1" height="5"/>
<rect x="56" y="924" width="1" height="5"/>
<rect x="120" y="924" width="1" height="5"/>
<rect x="184" y="924" width="1" height="5"/>
<rect x="248" y="924" width="1" height="5"/>
<rect x="312" y="924" width="1" height="5"/>
<rect x="376" y="924" width="1" height="5"/>
<rect x="440" y="924" width="1" height="5"/>
<rect x="504" y="924" width="1" height="5"/>
<rect x="568" y="924" width="1" height="5"/>
<rect x="632" y="924" width="1" height="5"/>
<rect x="696" y="924" width="1" height="5"/>
<rect x="760" y="924" width="1" height="5"/>
<rect x="824" y="924" width="1" height="5"/>
<rect x="888" y="924" width="1" height="5"/>
<rect x="952" y="924" width="1" height="5"/>
<rect x="1016" y="924" width="1" height="5"/>
<rect x="1080" y="924" width="1" height="5"/>
<rect x="1144" y="924" width="1" height="5"/>
<rect x="1208" y="924" width="1" height="5"/>
<rect x="1272" y="924" width="1" height="5"/>
<rect x="1336" y="924" width="1" height="5"/>
<rect x="1400" y="924" width="1" height="5"/>
</g>
<text x="-9" y="937" font-size="9.4" fill="#000" text-anchor="start" font-weight="normal" stroke="#000" stroke-width="0.18" >13 Oct 2020</text>
<text x="55" y="937" font-size="9.4" fill="#000" text-anchor="start" font-weight="normal" stroke="#000" stroke-width="0.18" >22 Oct 2020</text>
<text x="119" y="937" font-size="9.4" fill="#000" text-anchor="start" font-weight="normal" stroke="#000" stroke-width="0.18" >1 Nov 2020</text>
<text x="183" y="937" font-size="9.4" fill="#000" text-anchor="start" font-weight="normal" stroke="#000" stroke-width="0.18" >10 Nov 2020</text>
<text x="247" y="937" font-size="9.4" fill="#000" text-anchor="start" font-weight="normal" stroke="#000" stroke-width="0.18" >19 Nov 2020</text>
<text x="311" y="937" font-size="9.4" fill="#000" text-anchor="start" font-weight="normal" stroke="#000" stroke-width="0.18" >29 Nov 2020</text>
<text x="375" y="937" font-size="9.4" fill="#000" text-anchor="start" font-weight="normal" stroke="#000" stroke-width="0.18" >8 Dec 2020</text>
<text x="439" y="937" font-size="9.4" fill="#000" text-anchor="start" font-weight="normal" stroke="#000" stroke-width="0.18" >17 Dec 2020</text>
<text x="503" y="937" font-size="9.4" fill="#000" text-anchor="start" font-weight="normal" stroke="#000" stroke-width="0.18" >28 Dec 2020</text>
<text x="567" y="937" font-size="9.4" fill="#000" text-anchor="start" font-weight="normal" stroke="#000" stroke-width="0.18" >7 Jan 2021</text>
<text x="631" y="937" font-size="9.4" fill="#000" text-anchor="start" font-weight="normal" stroke="#000" stroke-width="0.18" >17 Jan 2021</text>
<text x="695" y="937" font-size="9.4" fill="#000" text-anchor="start" font-weight="normal" stroke="#000" stroke-width="0.18" >26 Jan 2021</text>
<text x="759" y="937" font-size="9.4" fill="#000" text-anchor="start" font-weight="normal" stroke="#000" stroke-width="0.18" >4 Feb 2021</text>
<text x="823" y="937" font-size="9.4" fill="#000" text-anchor="start" font-weight="normal" stroke="#000" stroke-width="0.18" >14 Feb 2021</text>
<text x="887" y="937" font-size="9.4" fill="#000" text-anchor="start" font-weight="normal" stroke="#000" stroke-width="0.18" >23 Feb 2021</text>
<text x="951" y="937" font-size="9.4" fill="#000" text-anchor="start" font-weight="normal" stroke="#000" stroke-width="0.18" >4 Mar 2021</text>
<text x="1015" y="937" font-size="9.4" fill="#000" text-anchor="start" font-weight="normal" stroke="#000" stroke-width="0.18" >14 Mar 2021</text>
<text x="1079" y="937" font-size="9.4" fill="#000" text-anchor="start" font-weight="normal" stroke="#000" stroke-width="0.18" >23 Mar 2021</text>
<text x="1143" y="937" font-size="9.4" fill="#000" text-anchor="start" font-weight="normal" stroke="#000" stroke-width="0.18" >1 Apr 2021</text>
<text x="1207" y="937" font-size="9.4" fill="#000" text-anchor="start" font-weight="normal" stroke="#000" stroke-width="0.18" >12 Apr 2021</text>
<text x="1271" y="937" font-size="9.4" fill="#000" text-anchor="start" font-weight="normal" stroke="#000" stroke-width="0.18" >21 Apr 2021</text>
<text x="1335" y="937" font-size="9.4" fill="#000" text-anchor="start" font-weight="normal" stroke="#000" stroke-width="0.18" >30 Apr 2021</text>
<text x="1399" y="937" font-size="9.4" fill="#000" text-anchor="start" font-weight="normal" stroke="#000" stroke-width="0.18" >10 May 2021</text>
<text x="7.5" y="35" font-size="10" fill="#000" text-anchor="start" font-weight="normal" stroke="#000" stroke-width="0.18" textLength="208.5" lengthAdjust="spacingAndGlyphs" xml:space="preserve">GBPJPY-,Daily  153.788 153.945 153.135 153.591</text>
<path d="M0,30 L3,33 L0,34 Z" fill="#000"/>
<circle cx="7" cy="25.5" r="1.5" fill="none" stroke="#000" stroke-width="0.8"/>
<rect x="977.5" y="83.5" width="61" height="18" fill="#fff" stroke="#ff0000" stroke-width="1" shape-rendering="crispEdges"/>
<rect x="1039" y="93" width="10" height="1" fill="#ff0000" shape-rendering="crispEdges"/>
<text x="980" y="98.5" font-size="16.5" fill="#ff0000" text-anchor="start" font-weight="normal" textLength="56" lengthAdjust="spacingAndGlyphs" >152.573</text>
<rect x="1089.5" y="62.5" width="61" height="18" fill="#fff" stroke="#ff0000" stroke-width="1" shape-rendering="crispEdges"/>
<rect x="1151" y="71" width="10" height="1" fill="#ff0000" shape-rendering="crispEdges"/>
<text x="1092" y="77.5" font-size="16.5" fill="#ff0000" text-anchor="start" font-weight="normal" textLength="56" lengthAdjust="spacingAndGlyphs" >153.388</text>
<rect x="1017.5" y="188.5" width="61" height="18" fill="#fff" stroke="#ff0000" stroke-width="1" shape-rendering="crispEdges"/>
<rect x="1079" y="197" width="10" height="1" fill="#ff0000" shape-rendering="crispEdges"/>
<text x="1020" y="203.5" font-size="16.5" fill="#ff0000" text-anchor="start" font-weight="normal" textLength="56" lengthAdjust="spacingAndGlyphs" >148.460</text>
<rect x="1193.5" y="98.5" width="61" height="18" fill="#fff" stroke="#ff0000" stroke-width="1" shape-rendering="crispEdges"/>
<rect x="1255" y="107" width="10" height="1" fill="#ff0000" shape-rendering="crispEdges"/>
<text x="1196" y="113.5" font-size="16.5" fill="#ff0000" text-anchor="start" font-weight="normal" textLength="56" lengthAdjust="spacingAndGlyphs" >152.000</text>
<rect x="1257.5" y="87.5" width="61" height="18" fill="#fff" stroke="#ff0000" stroke-width="1" shape-rendering="crispEdges"/>
<rect x="1319" y="97" width="10" height="1" fill="#ff0000" shape-rendering="crispEdges"/>
<text x="1260" y="102.5" font-size="16.5" fill="#ff0000" text-anchor="start" font-weight="normal" textLength="56" lengthAdjust="spacingAndGlyphs" >152.424</text>
<rect x="1289.5" y="68.5" width="61" height="18" fill="#fff" stroke="#ff0000" stroke-width="1" shape-rendering="crispEdges"/>
<rect x="1351" y="77" width="10" height="1" fill="#ff0000" shape-rendering="crispEdges"/>
<text x="1292" y="83.5" font-size="16.5" fill="#ff0000" text-anchor="start" font-weight="normal" textLength="56" lengthAdjust="spacingAndGlyphs" >153.172</text>
<rect x="1217.5" y="174.5" width="61" height="18" fill="#fff" stroke="#ff0000" stroke-width="1" shape-rendering="crispEdges"/>
<rect x="1279" y="183" width="10" height="1" fill="#ff0000" shape-rendering="crispEdges"/>
<text x="1220" y="189.5" font-size="16.5" fill="#ff0000" text-anchor="start" font-weight="normal" textLength="56" lengthAdjust="spacingAndGlyphs" >149.007</text>
<rect x="1374" y="75" width="115" height="6" fill="#00ff00" shape-rendering="crispEdges"/>
<line x1="1296" y1="180.5" x2="1428.7" y2="48.3" stroke="#ff0000" stroke-width="3" stroke-linecap="round"/>
<path d="M1436.5,40.5 L1432.9,52.5 L1430.8,46.1 L1424.5,44.0 Z" fill="#ff0000"/>
<line x1="1295" y1="739.5" x2="1417.2" y2="677.5" stroke="#ff0000" stroke-width="3" stroke-linecap="round"/>
<path d="M1427.0,672.5 L1419.9,682.8 L1419.9,676.1 L1414.5,672.1 Z" fill="#ff0000"/>
<line x1="1276.5" y1="862" x2="1401.0" y2="805.1" stroke="#ff0000" stroke-width="3" stroke-linecap="round"/>
<path d="M1411.0,800.5 L1403.5,810.5 L1403.7,803.8 L1398.5,799.6 Z" fill="#ff0000"/>
<rect x="1725" y="20" width="1" height="923" fill="#d8d8d8" shape-rendering="crispEdges"/>
<path d="M1420,24 L1429,24 L1424.5,28.5 Z" fill="#c0c0c0"/>
<defs>
<linearGradient id="gBtn" x1="0" y1="0" x2="0" y2="1"><stop offset="0" stop-color="#5c5cfa"/><stop offset="1" stop-color="#3c3ce6"/></linearGradient>
<linearGradient id="gPx" x1="0" y1="0" x2="0" y2="1"><stop offset="0" stop-color="#3a3ae0"/><stop offset="1" stop-color="#0000b4"/></linearGradient>
<linearGradient id="gSpin" x1="0" y1="0" x2="0" y2="1"><stop offset="0" stop-color="#f4f4f4"/><stop offset="0.5" stop-color="#e6e6e6"/><stop offset="1" stop-color="#d2d2d2"/></linearGradient>
<linearGradient id="gTb" x1="0" y1="0" x2="0" y2="1"><stop offset="0" stop-color="#b0b0b0"/><stop offset="1" stop-color="#646464"/></linearGradient>
</defs>
<g shape-rendering="crispEdges">
<rect x="0" y="43" width="215" height="65" fill="#ffffff"/>
<rect x="0" y="43" width="47" height="24" fill="url(#gBtn)"/>
<rect x="0" y="43" width="47" height="1" fill="#1a1a9a"/>
<rect x="0" y="66" width="43" height="1" fill="#1a1a9a"/>
<rect x="0" y="67" width="43" height="1" fill="#7a7af4"/>
<rect x="162" y="43" width="52" height="24" fill="url(#gBtn)"/>
<rect x="162" y="43" width="52" height="1" fill="#1a1a9a"/>
<rect x="166" y="66" width="44" height="1" fill="#1a1a9a"/>
<rect x="166" y="67" width="44" height="1" fill="#7a7af4"/>
<rect x="0" y="68" width="104" height="39" fill="url(#gPx)"/>
<rect x="47" y="67" width="57" height="1" fill="#2828d0"/>
<rect x="106" y="68" width="108" height="39" fill="url(#gPx)"/>
<rect x="106" y="67" width="56" height="1" fill="#2828d0"/>
<rect x="49" y="43" width="111" height="22" fill="#a8a8a8"/>
<rect x="50" y="44" width="109" height="20" fill="#ffffff"/>
<rect x="51" y="45" width="18" height="18" fill="url(#gSpin)"/>
<rect x="70" y="44" width="1" height="20" fill="#a8a8a8"/>
<rect x="138" y="44" width="1" height="20" fill="#a8a8a8"/>
<rect x="140" y="45" width="18" height="18" fill="url(#gSpin)"/>
</g>
<path d="M57,52 L62,52 L59.5,55 Z" fill="#5a6ad0"/>
<path d="M146,55 L151,55 L148.5,52 Z" fill="#5a6ad0"/>
<text x="112" y="58" font-size="12" fill="#000" text-anchor="start" font-weight="normal" textLength="22.5" lengthAdjust="spacingAndGlyphs" >1.00</text>
<text x="8" y="59" font-size="11.5" fill="#ffffff" text-anchor="start" font-weight="normal" stroke="#ffffff" stroke-width="0.18" textLength="25" lengthAdjust="spacingAndGlyphs" >SELL</text>
<text x="176" y="59" font-size="11.5" fill="#ffffff" text-anchor="start" font-weight="normal" stroke="#ffffff" stroke-width="0.18" textLength="22.5" lengthAdjust="spacingAndGlyphs" >BUY</text>
<text x="19" y="98" font-size="12" fill="#ffffff" text-anchor="start" font-weight="bold" textLength="20" lengthAdjust="spacingAndGlyphs" >153</text>
<text x="43.5" y="98" font-size="33" fill="#ffffff" text-anchor="start" font-weight="normal" textLength="34" lengthAdjust="spacingAndGlyphs" >59</text>
<text x="82.5" y="82" font-size="11.5" fill="#ffffff" text-anchor="start" font-weight="bold" textLength="6.5" lengthAdjust="spacingAndGlyphs" >1</text>
<text x="128.5" y="98" font-size="12" fill="#ffffff" text-anchor="start" font-weight="bold" textLength="20" lengthAdjust="spacingAndGlyphs" >153</text>
<text x="154" y="98" font-size="33" fill="#ffffff" text-anchor="start" font-weight="normal" textLength="34" lengthAdjust="spacingAndGlyphs" >63</text>
<text x="192.5" y="82" font-size="11.5" fill="#ffffff" text-anchor="start" font-weight="bold" textLength="7.5" lengthAdjust="spacingAndGlyphs" >0</text>
<rect x="0" y="0" width="1726" height="19" fill="#f0f0f0"/>
<rect x="0" y="19" width="1726" height="2" fill="url(#gTb)" shape-rendering="crispEdges"/>
<rect x="0" y="21" width="1726" height="2" fill="#ffffff" shape-rendering="crispEdges"/>
<g shape-rendering="crispEdges" fill="#a0a0a0">
<rect x="40" y="1" width="1" height="16" fill="#b4b4b4"/>
<rect x="276" y="1" width="1" height="16" fill="#b4b4b4"/>
<rect x="371" y="1" width="1" height="16" fill="#b4b4b4"/>
<rect x="461" y="1" width="1" height="16" fill="#b4b4b4"/>
<rect x="466" y="1" width="1" height="16" fill="#b4b4b4"/>
<rect x="494" y="1" width="1" height="16" fill="#b4b4b4"/>
<rect x="523" y="1" width="1" height="16" fill="#b4b4b4"/>
<rect x="644" y="1" width="1" height="16" fill="#b4b4b4"/>
<rect x="654" y="1" width="1" height="16" fill="#b4b4b4"/>
<rect x="711" y="1" width="1" height="16" fill="#b4b4b4"/>
<rect x="950" y="1" width="1" height="16" fill="#b4b4b4"/>
<rect x="1128" y="0" width="1" height="18" fill="#9c9c9c"/>
<rect x="1211" y="0" width="1" height="18" fill="#9c9c9c"/>
</g>
<g fill="#b8b8b8" shape-rendering="crispEdges">
<rect x="281" y="2" width="3" height="1"/>
<rect x="281" y="4" width="3" height="1"/>
<rect x="281" y="6" width="3" height="1"/>
<rect x="281" y="8" width="3" height="1"/>
<rect x="281" y="10" width="3" height="1"/>
<rect x="281" y="12" width="3" height="1"/>
<rect x="281" y="14" width="3" height="1"/>
<rect x="281" y="16" width="3" height="1"/>
<rect x="648" y="2" width="3" height="1"/>
<rect x="648" y="4" width="3" height="1"/>
<rect x="648" y="6" width="3" height="1"/>
<rect x="648" y="8" width="3" height="1"/>
<rect x="648" y="10" width="3" height="1"/>
<rect x="648" y="12" width="3" height="1"/>
<rect x="648" y="14" width="3" height="1"/>
<rect x="648" y="16" width="3" height="1"/>
<rect x="954" y="2" width="3" height="1"/>
<rect x="954" y="4" width="3" height="1"/>
<rect x="954" y="6" width="3" height="1"/>
<rect x="954" y="8" width="3" height="1"/>
<rect x="954" y="10" width="3" height="1"/>
<rect x="954" y="12" width="3" height="1"/>
<rect x="954" y="14" width="3" height="1"/>
<rect x="954" y="16" width="3" height="1"/>
</g>
<rect x="-4" y="1" width="6" height="12" fill="#dfe8ff" stroke="#3a6ad8" stroke-width="1"/>
<rect x="15.5" y="0.5" width="12" height="14" fill="#f6f6f6" stroke="#b0b0b0"/>
<circle cx="23" cy="8" r="4.5" fill="#cfe0f4" stroke="#7898c0" stroke-width="1.2"/>
<line x1="26" y1="11" x2="32" y2="16" stroke="#c89628" stroke-width="2"/>
<path d="M50.5,0.5 L58,0.5 L61.5,4 L61.5,13.5 L50.5,13.5 Z" fill="#f8f8f8" stroke="#7c7c7c"/>
<rect x="58" y="6" width="3" height="11" fill="#20b020"/><rect x="54" y="10" width="11" height="3" fill="#20b020"/>
<path d="M117,9 L124,1 L133,7 L127,15 Z" fill="#e8b030" stroke="#9a6a10" stroke-width="0.8"/>
<rect x="148" y="0" width="9" height="10" fill="#5aa0e8" stroke="#2a6ab8" stroke-width="0.8"/>
<ellipse cx="153" cy="12.5" rx="7.5" ry="3" fill="#dde6f0" stroke="#7a8aa0" stroke-width="0.8"/>
<circle cx="181" cy="7" r="7" fill="none" stroke="#5a86d8" stroke-width="1"/>
<circle cx="181" cy="7" r="4" fill="none" stroke="#4a9a4a" stroke-width="1.2"/>
<circle cx="181" cy="7" r="1.5" fill="#2050c0"/>
<ellipse cx="205" cy="4" rx="6" ry="3.5" fill="#5a9ad8"/>
<path d="M199,6 L211,6 L209,14 L201,12 Z" fill="#f0d040"/>
<circle cx="209" cy="11" r="3.5" fill="#e02020"/><rect x="207.5" y="9.5" width="3" height="3" fill="#fff"/>
<path d="M292,1 L292,14 L305,14" fill="none" stroke="#404040" stroke-width="1.2"/>
<path d="M296,12 L296,7 L299,7 L299,3" fill="none" stroke="#209020" stroke-width="1.3"/>
<rect x="314" y="0" width="25" height="18" fill="#f8f8f8"/>
<path d="M321,1 L321,14 L334,14" fill="none" stroke="#404040" stroke-width="1.2"/>
<rect x="326" y="2" width="4" height="8" fill="#20c020" stroke="#106010" stroke-width="0.6"/><line x1="328" y1="0" x2="328" y2="12" stroke="#106010" stroke-width="0.8"/>
<path d="M349,1 L349,14 L362,14" fill="none" stroke="#404040" stroke-width="1.2"/>
<path d="M351,10 Q355,2 360,8" fill="none" stroke="#20a040" stroke-width="1.2"/>
<circle cx="386" cy="6" r="5" fill="#dcecff" stroke="#2a6ad8" stroke-width="1.5"/>
<line x1="390" y1="10" x2="395" y2="15" stroke="#d0a020" stroke-width="2.5"/>
<rect x="383" y="5" width="6" height="2" fill="#2a6ad8"/>
<rect x="385" y="3" width="2" height="6" fill="#2a6ad8"/>
<circle cx="414" cy="6" r="5" fill="#dcecff" stroke="#2a6ad8" stroke-width="1.5"/>
<line x1="418" y1="10" x2="423" y2="15" stroke="#d0a020" stroke-width="2.5"/>
<rect x="411" y="5" width="6" height="2" fill="#2a6ad8"/>
<rect x="436" y="0" width="7" height="6" fill="#3aa03a"/><rect x="444" y="0" width="8" height="6" fill="#3a6ad8"/>
<rect x="436" y="7" width="7" height="6" fill="#3a6ad8"/><rect x="444" y="7" width="8" height="6" fill="#3aa03a"/>
<g fill="#fff"><rect x="437" y="2" width="5" height="1"/><rect x="445" y="2" width="5" height="1"/><rect x="437" y="9" width="5" height="1"/><rect x="445" y="9" width="5" height="1"/></g>
<path d="M473,1 L473,14 L486,14" fill="none" stroke="#404040" stroke-width="1.2"/>
<path d="M479,3 L483,6 L479,9 Z" fill="#20a020"/>
<path d="M501,1 L501,14 L514,14" fill="none" stroke="#404040" stroke-width="1.2"/>
<line x1="507" y1="1" x2="507" y2="12" stroke="#2a6ad8" stroke-width="1.2"/><path d="M514,6 L510,6 M512,4 L510,6 L512,8" stroke="#e04010" stroke-width="1.2" fill="none"/>
<rect x="534.5" y="1.5" width="9" height="11" fill="#f4f4f4" stroke="#909090"/>
<rect x="540" y="5" width="3" height="12" fill="#20b020"/><rect x="536" y="9" width="11" height="3" fill="#20b020"/>
<path d="M554,6 L559,6 L556.5,9 Z" fill="#000"/>
<circle cx="579" cy="7" r="7" fill="#2a7ae0"/><circle cx="579" cy="7" r="5" fill="#f4f4f4"/><path d="M579,4 L579,7 L582,8" stroke="#333" fill="none" stroke-width="0.8"/>
<path d="M593,6 L598,6 L595.5,9 Z" fill="#000"/>
<rect x="610.5" y="0.5" width="15" height="13" fill="#ffffff" stroke="#3a6ad8"/><rect x="611" y="1" width="14" height="3" fill="#3a6ad8"/>
<path d="M612,7 L616,6 L620,7 L624,5" stroke="#c03020" fill="none" stroke-width="0.9"/><path d="M612,11 L616,10 L620,11 L624,9" stroke="#20a020" fill="none" stroke-width="0.9"/>
<path d="M632,6 L637,6 L634.5,9 Z" fill="#000"/>
<rect x="655" y="0" width="24" height="18" fill="#f6f6f6"/>
<path d="M662,1 L662,13 L665,10 L668,15 L670,14 L667,9 L671,9 Z" fill="#404040"/>
<path d="M694,1 L694,14 M687,7 L701,7" stroke="#505050" stroke-width="1.2"/>
<line x1="728.5" y1="1" x2="728.5" y2="14" stroke="#505050" stroke-width="1.2"/>
<line x1="750" y1="7.5" x2="762" y2="7.5" stroke="#505050" stroke-width="1.2"/>
<line x1="778" y1="14" x2="791" y2="2" stroke="#505050" stroke-width="1.2"/>
<path d="M805,12 L816,2 M807,14 L818,4 M809,8 L812,8 M811,5 L814,5" stroke="#505050" stroke-width="1"/>
<text x="815" y="17" font-size="6" fill="#404040" text-anchor="start" font-weight="bold" >E</text>
<g fill="#606060"><rect x="834" y="1" width="1" height="1"/><rect x="836" y="1" width="1" height="1"/><rect x="838" y="1" width="1" height="1"/><rect x="840" y="1" width="1" height="1"/><rect x="842" y="1" width="1" height="1"/><rect x="844" y="1" width="1" height="1"/><rect x="846" y="1" width="1" height="1"/><rect x="834" y="4" width="1" height="1"/><rect x="836" y="4" width="1" height="1"/><rect x="838" y="4" width="1" height="1"/><rect x="840" y="4" width="1" height="1"/><rect x="842" y="4" width="1" height="1"/><rect x="844" y="4" width="1" height="1"/><rect x="846" y="4" width="1" height="1"/><rect x="834" y="7" width="1" height="1"/><rect x="836" y="7" width="1" height="1"/><rect x="838" y="7" width="1" height="1"/><rect x="840" y="7" width="1" height="1"/><rect x="842" y="7" width="1" height="1"/><rect x="844" y="7" width="1" height="1"/><rect x="846" y="7" width="1" height="1"/><rect x="834" y="10" width="1" height="1"/><rect x="836" y="10" width="1" height="1"/><rect x="838" y="10" width="1" height="1"/><rect x="840" y="10" width="1" height="1"/><rect x="842" y="10" width="1" height="1"/><rect x="844" y="10" width="1" height="1"/><rect x="846" y="10" width="1" height="1"/></g>
<text x="845" y="17" font-size="6" fill="#404040" text-anchor="start" font-weight="bold" >F</text>
<text x="864" y="12" font-size="12" fill="#404040" text-anchor="start" font-weight="bold" >A</text>
<rect x="891.5" y="1.5" width="11" height="12" fill="none" stroke="#707070" stroke-dasharray="1,1"/>
<text x="893" y="12" font-size="11" fill="#404040" text-anchor="start" font-weight="bold" >T</text>
<path d="M917,3 L921,1 L923,4 L919,6 Z M923,8 L927,6 L929,9 L925,11 Z" fill="#404040"/><path d="M919,6 L923,9" stroke="#404040"/>
<path d="M939,6 L944,6 L941.5,9 Z" fill="#000"/>
<rect x="1129" y="0" width="24" height="17" fill="#f8f8f8"/>
<text x="965.5" y="11" font-size="9.6" fill="#333333" text-anchor="start" font-weight="normal" stroke="#333333" stroke-width="0.18" textLength="12.5" lengthAdjust="spacingAndGlyphs" >M1</text>
<text x="993.5" y="11" font-size="9.6" fill="#333333" text-anchor="start" font-weight="normal" stroke="#333333" stroke-width="0.18" textLength="12.7" lengthAdjust="spacingAndGlyphs" >M5</text>
<text x="1019.5" y="11" font-size="9.6" fill="#333333" text-anchor="start" font-weight="normal" stroke="#333333" stroke-width="0.18" textLength="17.8" lengthAdjust="spacingAndGlyphs" >M15</text>
<text x="1047.4" y="11" font-size="9.6" fill="#333333" text-anchor="start" font-weight="normal" stroke="#333333" stroke-width="0.18" textLength="17.8" lengthAdjust="spacingAndGlyphs" >M30</text>
<text x="1078.2" y="11" font-size="9.6" fill="#333333" text-anchor="start" font-weight="normal" stroke="#333333" stroke-width="0.18" textLength="11.9" lengthAdjust="spacingAndGlyphs" >H1</text>
<text x="1105.5" y="11" font-size="9.6" fill="#333333" text-anchor="start" font-weight="normal" stroke="#333333" stroke-width="0.18" textLength="12.6" lengthAdjust="spacingAndGlyphs" >H4</text>
<text x="1134.4" y="11" font-size="9.6" fill="#333333" text-anchor="start" font-weight="normal" stroke="#333333" stroke-width="0.18" textLength="11.6" lengthAdjust="spacingAndGlyphs" >D1</text>
<text x="1161.4" y="11" font-size="9.6" fill="#333333" text-anchor="start" font-weight="normal" stroke="#333333" stroke-width="0.18" textLength="14.6" lengthAdjust="spacingAndGlyphs" >W1</text>
<text x="1188.2" y="11" font-size="9.6" fill="#333333" text-anchor="start" font-weight="normal" stroke="#333333" stroke-width="0.18" textLength="14.9" lengthAdjust="spacingAndGlyphs" >MN</text>
<circle cx="1681" cy="4.5" r="3.6" fill="none" stroke="#2060e0" stroke-width="1.5"/>
<line x1="1678.5" y1="7.5" x2="1674" y2="12" stroke="#2050c0" stroke-width="2"/>
<ellipse cx="1704" cy="9" rx="6" ry="4.5" fill="#e4e6ec" stroke="#b0b0b0" stroke-width="0.8"/>
<circle cx="1712.5" cy="5" r="8" fill="#de3a1c"/>
<text x="1710" y="10" font-size="11" fill="#ffffff" text-anchor="start" font-weight="bold" >1</text>
<path d="M1531.55,80.00 L1526.80,84.75 M1529.65,81.90 L1537.25,81.90 L1525.85,89.50 M1528.70,83.80 L1531.55,85.70 M1534.40,87.60 L1527.75,92.35 M1532.50,89.50 L1540.10,89.50 L1524.90,99.00 M1530.60,92.35 L1533.45,94.25 M1554.00,80.00 L1554.00,81.90 M1546.40,85.70 L1546.40,82.85 L1561.60,82.85 L1561.60,85.70 M1552.10,84.75 L1548.30,88.55 M1555.90,84.75 L1559.70,88.55 M1549.25,91.40 L1558.75,91.40 M1554.00,91.40 L1554.00,97.10 M1546.40,97.10 L1561.60,97.10 M1566.00,83.80 L1573.60,83.80 M1570.75,80.00 L1567.90,89.50 L1573.60,89.50 M1570.75,85.70 L1570.75,99.00 M1566.00,94.25 L1573.60,93.30 M1575.50,83.80 L1584.05,83.80 M1575.50,88.55 L1584.05,88.55 M1580.25,80.00 L1577.40,92.35 L1583.10,92.35 L1579.30,96.15 M1578.35,96.15 L1582.15,99.00 M1587.50,85.70 L1594.15,85.70 M1591.30,80.00 L1591.30,98.05 L1589.40,97.10 M1587.50,93.30 L1594.15,90.45 M1604.60,80.95 L1597.95,83.80 M1597.95,83.80 L1597.95,91.40 L1596.05,99.00 M1597.95,88.55 L1605.55,88.55 M1601.75,88.55 L1601.75,99.00 M1617.55,80.00 L1617.55,87.60 M1617.55,83.80 L1624.20,83.80 M1612.80,87.60 L1624.20,87.60 L1624.20,92.35 L1612.80,92.35 L1612.80,87.60 M1610.90,98.05 L1612.80,95.20 M1615.65,95.20 L1616.60,98.05 M1619.45,95.20 L1620.40,98.05 M1623.25,95.20 L1626.10,98.05" fill="none" stroke="#00ff00" stroke-width="1.4" stroke-linecap="square" stroke-linejoin="miter"/>
<path d="M71.50,1.50 L72.00,2.45 M69.50,2.92 L74.00,2.92 M70.50,3.88 L71.00,4.83 M73.00,3.88 L72.50,4.83 M69.50,5.30 L74.00,5.30 M69.50,7.20 L74.00,7.20 M71.75,5.30 L71.75,11.00 M71.50,7.67 L69.50,10.05 M72.00,7.67 L74.00,9.57 M78.00,1.98 L75.00,3.40 M75.00,3.40 L75.00,7.20 L74.00,11.00 M75.00,5.78 L79.00,5.78 M77.00,5.78 L77.00,11.00 M82.20,1.98 L83.20,2.92 M81.70,4.83 L83.20,4.83 L83.20,9.57 L84.20,8.62 M85.20,2.92 L90.70,2.92 M88.20,2.92 L88.20,10.53 L87.20,9.57 M96.40,1.50 L97.40,2.45 M100.40,1.50 L99.40,2.45 M94.90,3.40 L101.90,3.40 L101.90,7.20 L94.90,7.20 L94.90,3.40 M94.90,5.30 L101.90,5.30 M98.40,3.40 L98.40,11.00 M93.90,8.62 L102.90,8.62" fill="none" stroke="#1a1a1a" stroke-width="1.1" stroke-linecap="square" stroke-linejoin="miter"/>
<path d="M226.22,1.50 L225.18,3.08 M223.60,3.08 L229.90,3.08 L229.90,11.47 L223.60,11.47 L223.60,3.08 M223.60,5.70 L229.90,5.70 M223.60,8.32 L229.90,8.32 M234.03,3.08 L237.70,3.08 M233.50,5.70 L238.22,5.70 M235.60,5.70 L234.03,9.90 L238.22,9.38 M237.18,8.32 L238.22,10.43 M239.28,4.65 L243.47,4.65 L243.47,11.47 L241.90,10.95 M241.38,2.02 L241.38,6.75 L239.28,11.47 M250.75,1.50 L250.75,2.55 M246.03,3.60 L255.47,3.60 M249.18,4.65 L247.07,6.75 M252.32,4.65 L254.43,6.75 M248.12,7.28 L253.38,11.47 M253.38,7.28 L247.07,11.47 M260.12,2.02 L265.38,2.02 L265.38,5.70 L260.12,5.70 L260.12,2.02 M260.12,3.86 L265.38,3.86 M260.65,6.22 L259.07,8.32 M260.12,7.28 L266.95,7.28 L266.43,11.47 L265.38,10.95 M262.23,7.80 L260.12,10.95 M264.32,7.80 L262.23,11.47" fill="none" stroke="#1a1a1a" stroke-width="1.1" stroke-linecap="square" stroke-linejoin="miter"/>
</svg></body></html>
